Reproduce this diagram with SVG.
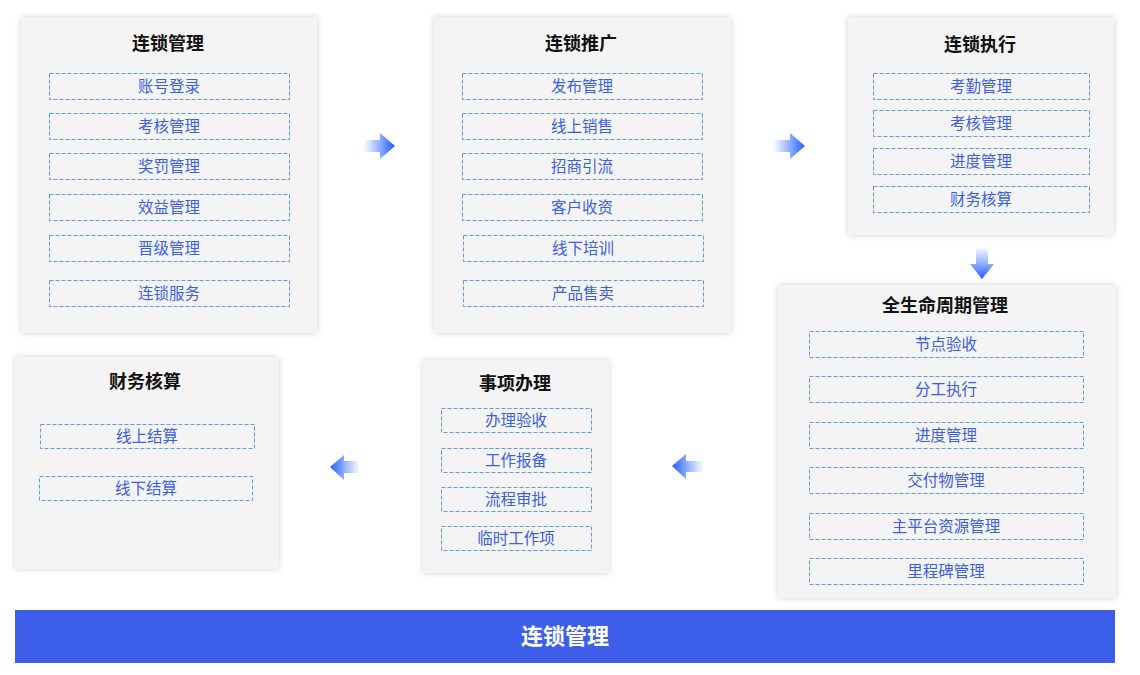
<svg xmlns="http://www.w3.org/2000/svg" width="1140" height="675" viewBox="0 0 1140 675">
<defs>
<filter id="sh" x="-10%" y="-10%" width="120%" height="120%">
<feDropShadow dx="0" dy="0" stdDeviation="3" flood-color="#000" flood-opacity="0.18"/>
</filter>
<linearGradient id="gR" x1="0" y1="0" x2="1" y2="0"><stop offset="0" stop-color="#3a6dff" stop-opacity="0"/><stop offset="1" stop-color="#1f5aff"/></linearGradient>
<linearGradient id="gL" x1="1" y1="0" x2="0" y2="0"><stop offset="0" stop-color="#3a6dff" stop-opacity="0"/><stop offset="1" stop-color="#1f5aff"/></linearGradient>
<linearGradient id="gD" x1="0" y1="0" x2="0" y2="1"><stop offset="0" stop-color="#3a6dff" stop-opacity="0.05"/><stop offset="1" stop-color="#1f5aff"/></linearGradient>
</defs>
<style>
.panel{fill:#f4f4f4;filter:url(#sh)}
.item{fill:none;stroke:#5a9be6;stroke-width:1;stroke-dasharray:4 2}
.t{font-family:"Noto Sans CJK SC","Noto Sans",sans-serif;font-size:18px;font-weight:bold;fill:#111;text-anchor:middle}
.i{font-family:"Noto Sans CJK SC","Noto Sans",sans-serif;font-size:15.5px;fill:#3a5ee6;text-anchor:middle}
</style>
<rect width="1140" height="675" fill="#fff"/>

<g id="n1">
<rect class="panel" x="21" y="17" width="296" height="316"/>
<text class="t" x="168" y="50">连锁管理</text>
<rect class="item" x="49.5" y="73.5" width="240" height="26"/><text class="i" x="169" y="92">账号登录</text>
<rect class="item" x="49.5" y="113.5" width="240" height="26"/><text class="i" x="169" y="132">考核管理</text>
<rect class="item" x="49.5" y="153.5" width="240" height="26"/><text class="i" x="169" y="172">奖罚管理</text>
<rect class="item" x="49.5" y="194.5" width="240" height="26"/><text class="i" x="169" y="213">效益管理</text>
<rect class="item" x="49.5" y="235.5" width="240" height="26"/><text class="i" x="169" y="254">晋级管理</text>
<rect class="item" x="49.5" y="280.5" width="240" height="26"/><text class="i" x="169" y="299">连锁服务</text>
</g>

<g id="n2">
<rect class="panel" x="434" y="17" width="297" height="316"/>
<text class="t" x="581" y="50">连锁推广</text>
<rect class="item" x="462.5" y="73.5" width="240" height="26"/><text class="i" x="582" y="92">发布管理</text>
<rect class="item" x="462.5" y="113.5" width="240" height="26"/><text class="i" x="582" y="132">线上销售</text>
<rect class="item" x="462.5" y="153.5" width="240" height="26"/><text class="i" x="582" y="172">招商引流</text>
<rect class="item" x="462.5" y="194.5" width="240" height="26"/><text class="i" x="582" y="213">客户收资</text>
<rect class="item" x="463.5" y="235.5" width="240" height="26"/><text class="i" x="583" y="254">线下培训</text>
<rect class="item" x="463.5" y="280.5" width="240" height="26"/><text class="i" x="583" y="299">产品售卖</text>
</g>

<g id="n3">
<rect class="panel" x="848" y="17" width="266" height="218"/>
<text class="t" x="980" y="51">连锁执行</text>
<rect class="item" x="873.5" y="73.5" width="216" height="26"/><text class="i" x="981" y="92">考勤管理</text>
<rect class="item" x="873.5" y="110.5" width="216" height="26"/><text class="i" x="981" y="129">考核管理</text>
<rect class="item" x="873.5" y="148.5" width="216" height="26"/><text class="i" x="981" y="167">进度管理</text>
<rect class="item" x="873.5" y="186.5" width="216" height="26"/><text class="i" x="981" y="205">财务核算</text>
</g>

<g id="n4">
<rect class="panel" x="778" y="285" width="338" height="313"/>
<text class="t" x="945" y="312">全生命周期管理</text>
<rect class="item" x="809.5" y="331.5" width="274" height="26"/><text class="i" x="946" y="350">节点验收</text>
<rect class="item" x="809.5" y="376.5" width="274" height="26"/><text class="i" x="946" y="395">分工执行</text>
<rect class="item" x="809.5" y="422.5" width="274" height="26"/><text class="i" x="946" y="441">进度管理</text>
<rect class="item" x="809.5" y="467.5" width="274" height="26"/><text class="i" x="946" y="486">交付物管理</text>
<rect class="item" x="809.5" y="513.5" width="274" height="26"/><text class="i" x="946" y="532">主平台资源管理</text>
<rect class="item" x="809.5" y="558.5" width="274" height="26"/><text class="i" x="946" y="577">里程碑管理</text>
</g>

<g id="n5">
<rect class="panel" x="423" y="360" width="186" height="213"/>
<text class="t" x="515" y="390">事项办理</text>
<rect class="item" x="441.5" y="408.5" width="150" height="24"/><text class="i" x="516" y="426">办理验收</text>
<rect class="item" x="441.5" y="448.5" width="150" height="24"/><text class="i" x="516" y="466">工作报备</text>
<rect class="item" x="441.5" y="487.5" width="150" height="24"/><text class="i" x="516" y="505">流程审批</text>
<rect class="item" x="441.5" y="526.5" width="150" height="24"/><text class="i" x="516" y="544">临时工作项</text>
</g>

<g id="n6">
<rect class="panel" x="15" y="357" width="264" height="212"/>
<text class="t" x="145" y="388">财务核算</text>
<rect class="item" x="40.5" y="424.5" width="214" height="24"/><text class="i" x="147" y="442">线上结算</text>
<rect class="item" x="39.5" y="476.5" width="213" height="24"/><text class="i" x="146" y="494">线下结算</text>
</g>

<g id="connectors">
<path d="M363 140 H380 V133 L395 146 L380 159 V152 H363 Z" fill="url(#gR)"/>
<path d="M773 140 H790 V133 L805 146 L790 159 V152 H773 Z" fill="url(#gR)"/>
<path d="M976 248 V264 H970 L982 279 L994 264 H988 V248 Z" fill="url(#gD)"/>
<path d="M360 461 H344 V455 L330 467 L344 480 V473 H360 Z" fill="url(#gL)"/>
<path d="M704 461 H686 V454 L672 466 L686 479 V472 H704 Z" fill="url(#gL)"/>
</g>

<g id="bar">
<rect x="15" y="610" width="1100" height="53" fill="#3c5ee8"/>
<text x="565" y="644" font-family="'Noto Sans CJK SC','Noto Sans',sans-serif" font-size="22" font-weight="bold" fill="#fff" text-anchor="middle">连锁管理</text>
</g>
</svg>
